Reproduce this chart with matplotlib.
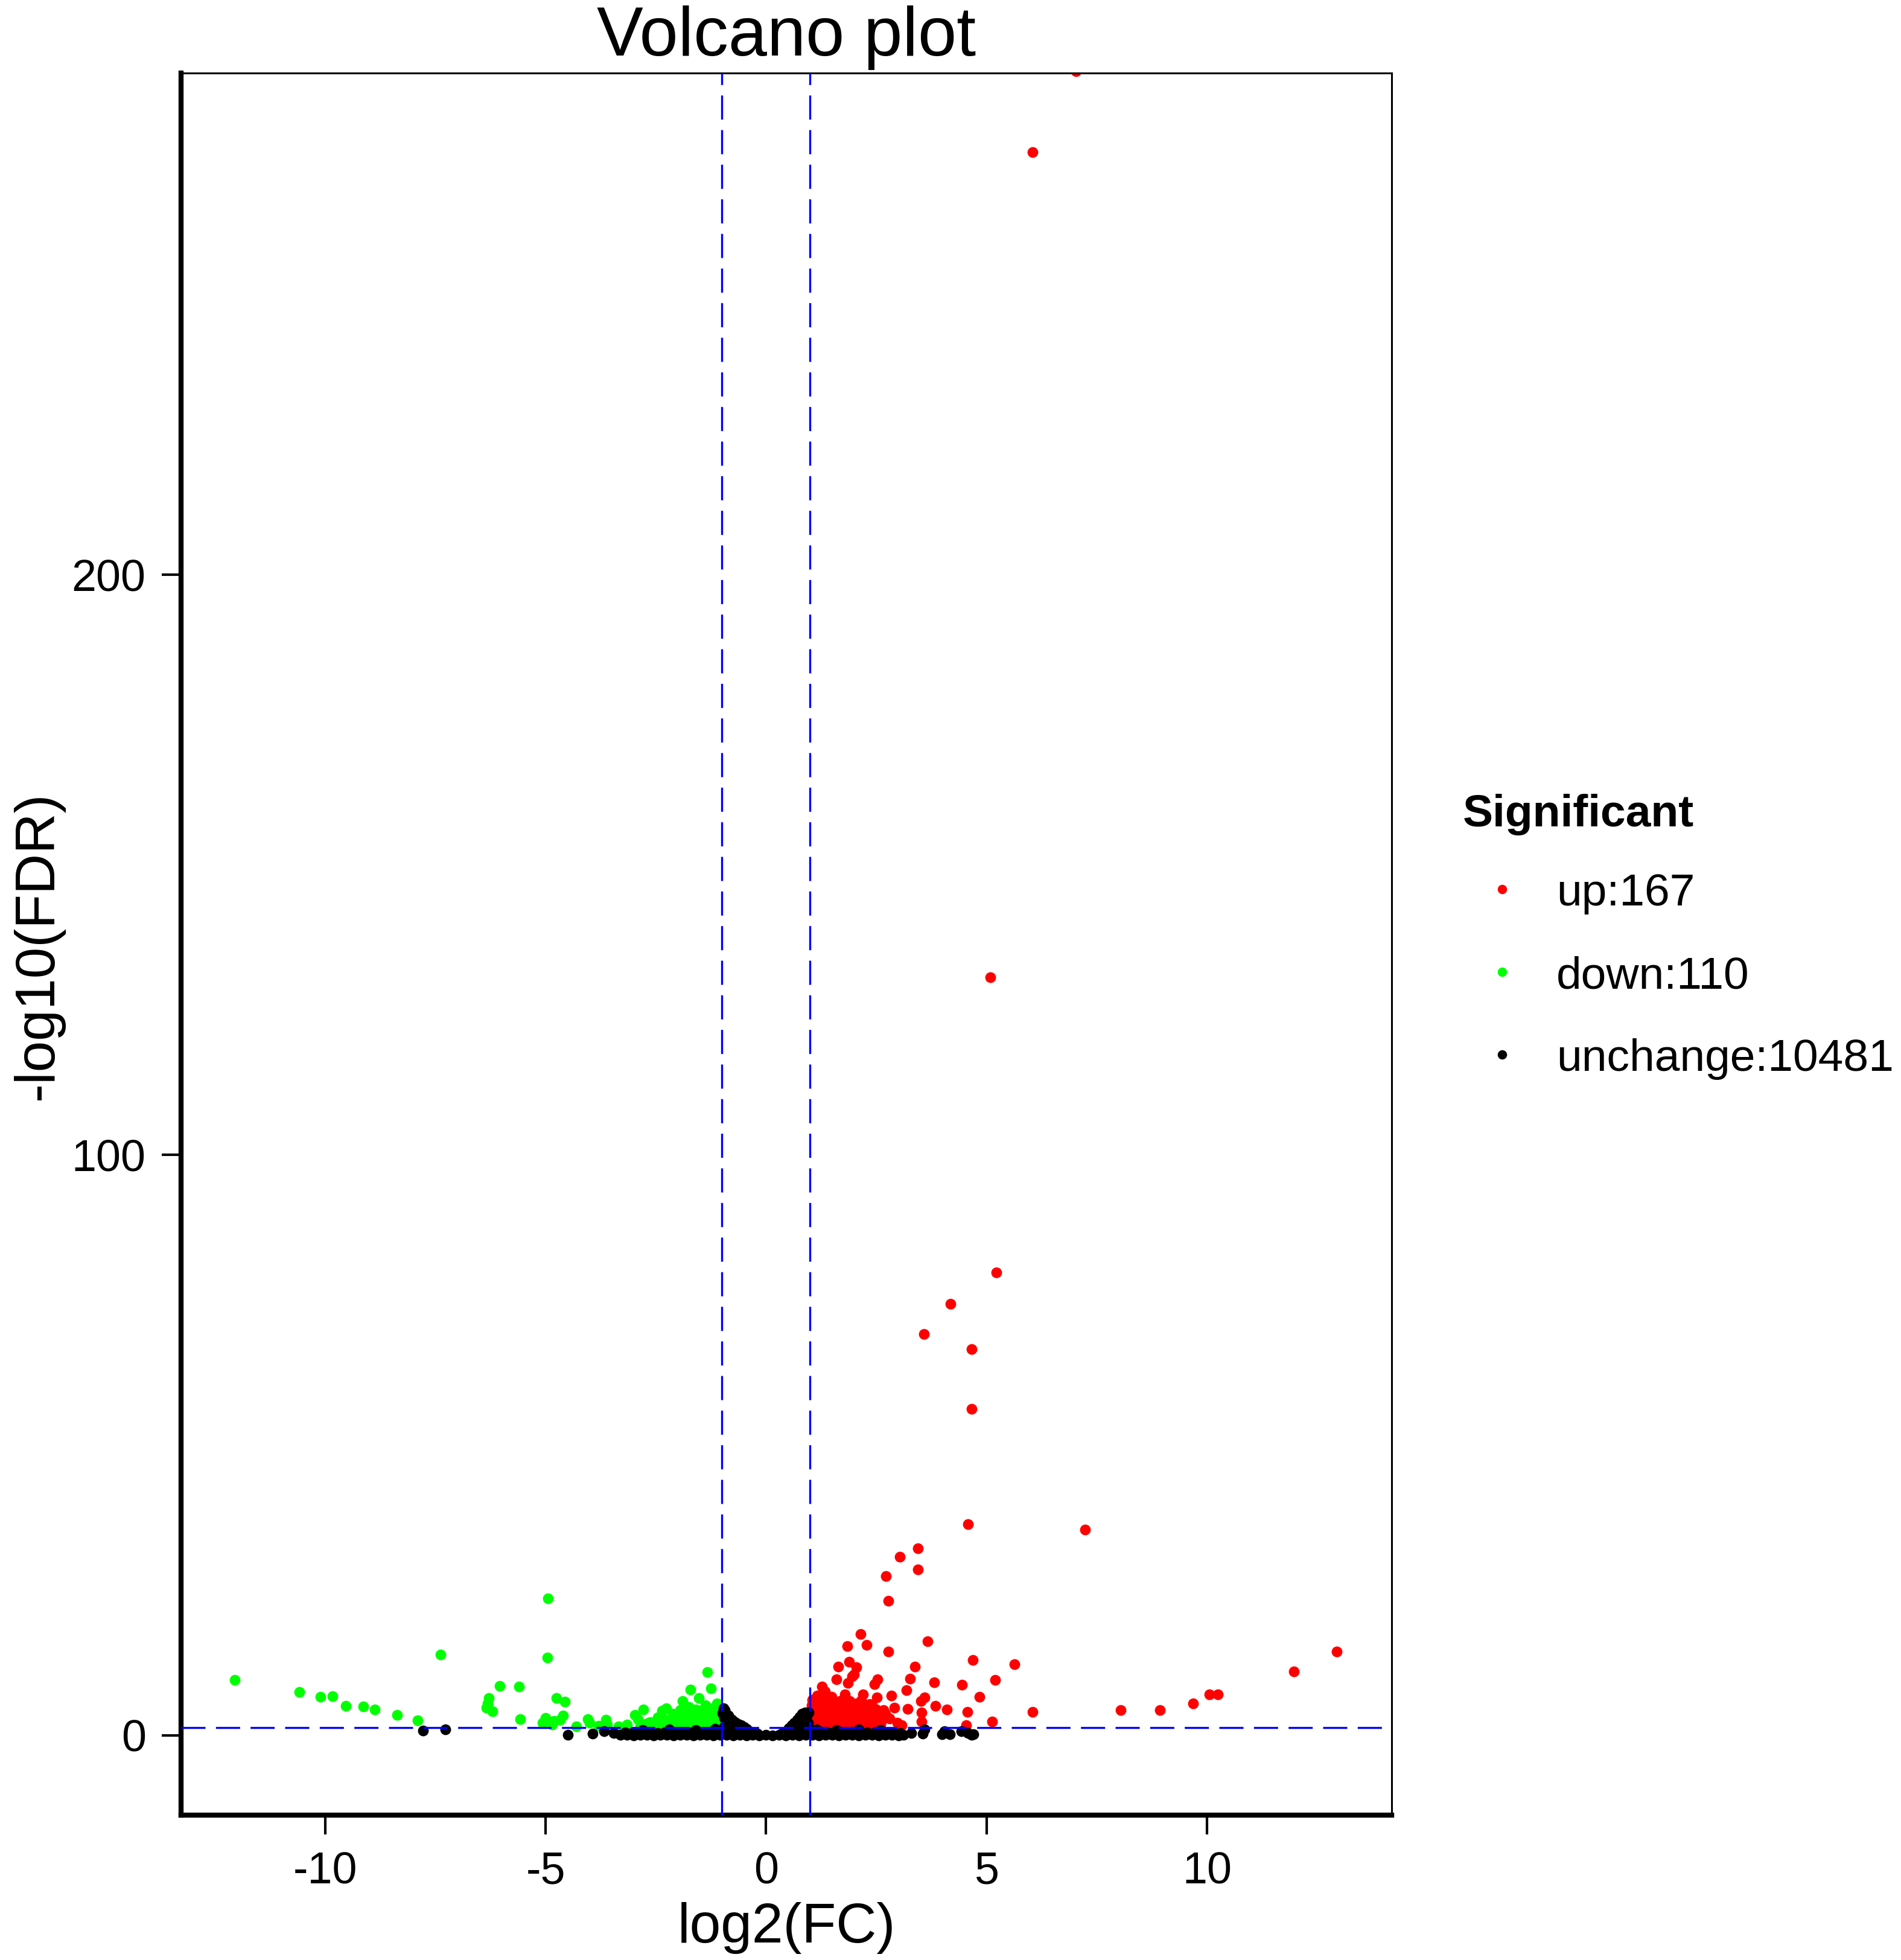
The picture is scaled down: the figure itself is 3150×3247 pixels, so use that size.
import matplotlib
matplotlib.use("Agg")
import matplotlib.pyplot as plt

plt.rcParams['font.family'] = ['Liberation Sans', 'DejaVu Sans']
plt.rcParams['axes.unicode_minus'] = False

# points: (log2(FC), -log10(FDR))
up_points = [
    (7.03, 286.8), (6.04, 272.8), (5.09, 130.6), (5.22, 79.8), (4.18, 74.4),
    (3.58, 69.2), (4.66, 66.5), (4.66, 56.3), (4.58, 36.4), (7.24, 35.5),
    (3.45, 32.2), (3.04, 30.8), (3.44, 28.6), (2.72, 27.4), (2.77, 23.2),
    (12.94, 14.4), (11.97, 11.0), (10.25, 7.0), (10.06, 7.0), (9.68, 5.5),
    (8.94, 4.3), (8.04, 4.3), (6.05, 4.0), (5.13, 2.4),
    (2.15, 17.5), (1.84, 15.4), (2.28, 15.6), (2.78, 14.4), (3.66, 16.2),
    (4.69, 13.0), (5.64, 12.3), (1.64, 11.8), (1.88, 12.7), (2.05, 11.7),
    (1.60, 9.7), (1.95, 10.2), (1.27, 8.4), (3.37, 11.8), (3.26, 9.8),
    (3.81, 9.1), (4.44, 8.7), (5.20, 9.5), (2.53, 9.7), (2.46, 8.8),
    (3.19, 7.8), (2.84, 6.8), (3.60, 6.5), (3.51, 5.9), (4.84, 6.6),
    (2.20, 7.1), (2.52, 6.5), (2.16, 6.0), (1.79, 7.1), (2.91, 4.8),
    (3.21, 4.6), (3.84, 5.1), (4.10, 4.5), (4.56, 4.0), (4.54, 1.7),
    (3.53, 3.9), (3.53, 2.4), (2.31, 4.3), (2.66, 4.3), (2.66, 3.3),
    (2.98, 2.2), (3.07, 1.7), (1.34, 7.6), (1.16, 6.8), (1.48, 6.6),
    (1.86, 9.0), (2.00, 10.5),
    # crowded part just right of the cut-off
    (1.05, 6.1), (1.13, 5.9), (1.21, 6.2), (1.30, 6.0), (1.42, 6.1), (1.55, 5.8),
    (1.70, 6.0), (1.90, 5.9),
    (1.03, 5.2), (1.10, 5.3), (1.18, 5.1), (1.25, 5.3), (1.35, 5.2), (1.45, 5.0),
    (1.60, 5.2), (1.75, 5.1), (1.95, 5.3), (2.10, 5.0), (2.40, 5.2),
    (1.02, 4.5), (1.08, 4.4), (1.15, 4.6), (1.22, 4.5), (1.30, 4.4), (1.38, 4.6),
    (1.50, 4.5), (1.62, 4.4), (1.80, 4.6), (2.00, 4.4), (2.20, 4.6), (2.50, 4.5),
    (1.04, 3.8), (1.10, 3.7), (1.17, 3.9), (1.24, 3.8), (1.32, 3.7), (1.40, 3.9),
    (1.52, 3.8), (1.65, 3.7), (1.78, 3.9), (1.92, 3.8), (2.05, 3.7), (2.25, 3.9),
    (2.45, 3.8), (2.70, 3.7),
    (1.03, 3.0), (1.09, 3.1), (1.15, 2.9), (1.21, 3.0), (1.28, 3.1), (1.36, 2.9),
    (1.45, 3.0), (1.55, 3.1), (1.68, 2.9), (1.82, 3.0), (1.97, 3.1), (2.12, 2.9),
    (2.30, 3.0), (2.55, 3.1), (2.80, 2.9),
    (1.02, 2.3), (1.08, 2.2), (1.14, 2.4), (1.20, 2.3), (1.27, 2.2), (1.35, 2.4),
    (1.44, 2.3), (1.54, 2.2), (1.66, 2.4), (1.80, 2.3), (1.95, 2.2), (2.10, 2.4),
    (2.28, 2.3), (2.48, 2.2),
    (1.05, 1.7), (1.12, 1.6), (1.20, 1.8), (1.30, 1.7), (1.40, 1.6), (1.52, 1.8),
    (1.65, 1.7), (1.80, 1.6), (1.96, 1.8), (2.15, 1.7), (2.35, 1.6), (2.60, 1.8),
    (1.25, 6.4), (1.58, 5.8), (1.40, 5.6), (2.05, 5.5), (2.35, 5.4), (1.68, 4.9),
    (2.42, 3.2), (2.62, 2.6), (1.88, 2.7), (1.46, 1.5),
]

down_points = [
    (-12.05, 9.5), (-10.59, 7.5), (-10.11, 6.6), (-9.84, 6.7), (-9.53, 5.1),
    (-9.14, 5.0), (-8.87, 4.5), (-8.37, 3.5), (-7.91, 2.6), (-7.38, 13.9),
    (-6.29, 6.4), (-6.32, 5.5), (-6.20, 4.1), (-6.04, 8.5), (-5.61, 8.4),
    (-5.57, 2.8), (-4.95, 23.6), (-4.96, 13.4), (-4.75, 6.4), (-4.56, 5.8),
    (-4.61, 3.4), (-4.68, 2.7), (-5.07, 2.2), (-4.81, 2.5), (-4.05, 2.8),
    (-4.00, 2.2), (-3.63, 2.7), (-3.60, 1.8), (-3.15, 1.8), (-2.97, 3.5),
    (-2.78, 4.4), (-2.91, 2.8), (-2.36, 4.2), (-2.26, 4.7), (-1.90, 5.9),
    (-1.72, 7.9), (-1.53, 6.4), (-1.34, 10.9), (-1.25, 8.1), (-2.63, 2.3),
    (-2.50, 1.6), (-2.49, 2.1),
    # crowded part just left of the cut-off
    (-1.05, 4.6), (-1.15, 4.5), (-1.28, 4.7), (-1.42, 4.6), (-1.60, 4.5),
    (-1.03, 4.0), (-1.10, 3.9), (-1.20, 4.1), (-1.30, 4.0), (-1.45, 3.9),
    (-1.62, 4.1), (-1.80, 4.0),
    (-1.04, 3.4), (-1.12, 3.3), (-1.22, 3.5), (-1.34, 3.4), (-1.48, 3.3),
    (-1.63, 3.5), (-1.82, 3.4), (-2.00, 3.3),
    (-1.02, 2.8), (-1.10, 2.7), (-1.18, 2.9), (-1.28, 2.8), (-1.40, 2.7),
    (-1.55, 2.9), (-1.70, 2.8), (-1.88, 2.7), (-2.08, 2.9), (-2.30, 2.8),
    (-1.05, 2.2), (-1.14, 2.1), (-1.25, 2.3), (-1.37, 2.2), (-1.50, 2.1),
    (-1.66, 2.3), (-1.84, 2.2), (-2.02, 2.1), (-2.20, 2.3), (-2.42, 2.2),
    (-2.70, 2.1),
    (-1.03, 1.6), (-1.12, 1.5), (-1.22, 1.7), (-1.35, 1.6), (-1.50, 1.5),
    (-1.68, 1.7), (-1.86, 1.6), (-2.06, 1.5), (-2.28, 1.7), (-2.55, 1.6),
    (-2.85, 1.5),
    (-2.45, 3.1), (-2.12, 3.7), (-1.95, 4.3), (-1.75, 4.9), (-1.38, 5.2),
    (-1.12, 5.5), (-3.35, 1.5), (-3.80, 1.6), (-4.30, 1.5), (-4.85, 1.9),
    (-6.35, 4.8), (-5.00, 3.0), (-1.65, 3.0), (-1.30, 3.0), (-2.15, 1.9),
    (-1.90, 1.5),
]

# a readable subset of the unchanged genes (they merge into one black band)
unchange_points = [
    (-7.78, 0.8), (-7.28, 1.0), (-4.50, 0.1), (-3.93, 0.3), (-3.68, 0.7),
    (-3.45, 0.4), (3.30, 0.4), (3.60, 1.0), (4.04, 0.7), (4.17, 0.2),
    (4.43, 0.7), (4.58, 0.35), (4.70, 0.2), (3.56, 0.3), (3.99, 0.2), (4.66, 0.1),
    # bottom of the band
    (-3.30, 0.05), (-3.15, 0.1), (-3.00, 0.0), (-2.85, 0.1), (-2.70, 0.05),
    (-2.55, 0.0), (-2.40, 0.1), (-2.25, 0.05), (-2.10, 0.0), (-1.95, 0.1),
    (-1.80, 0.05), (-1.65, 0.0), (-1.50, 0.1), (-1.35, 0.05), (-1.20, 0.0),
    (-1.05, 0.1), (-0.90, 0.05), (-0.75, 0.0), (-0.60, 0.05), (-0.45, 0.0),
    (-0.30, 0.05), (-0.15, 0.0), (0.00, 0.05), (0.15, 0.0), (0.30, 0.05),
    (0.45, 0.0), (0.60, 0.05), (0.75, 0.0), (0.90, 0.1), (1.05, 0.05),
    (1.20, 0.0), (1.35, 0.1), (1.50, 0.05), (1.65, 0.0), (1.80, 0.1),
    (1.95, 0.05), (2.10, 0.0), (2.25, 0.1), (2.40, 0.05), (2.55, 0.0),
    (2.70, 0.1), (2.85, 0.05), (3.00, 0.0), (3.12, 0.1),
    # upper part of the band
    (-3.20, 0.5), (-3.05, 0.4), (-2.90, 0.55), (-2.75, 0.45), (-2.60, 0.5),
    (-2.45, 0.4), (-2.30, 0.55), (-2.15, 0.45), (-2.00, 0.5), (-1.85, 0.4),
    (-1.70, 0.55), (-1.55, 0.45), (-1.40, 0.5), (-1.25, 0.6), (-1.10, 0.5),
    (1.10, 0.5), (1.25, 0.6), (1.40, 0.45), (1.55, 0.5), (1.70, 0.55),
    (1.85, 0.4), (2.00, 0.5), (2.15, 0.45), (2.30, 0.55), (2.45, 0.4),
    (2.60, 0.5), (2.75, 0.45), (2.90, 0.5), (3.05, 0.4),
    (-2.80, 0.9), (-2.20, 1.0), (-1.60, 0.9), (-1.15, 1.1), (1.15, 1.0),
    (1.60, 0.9), (2.10, 1.0), (2.60, 0.9),
    # left flank at log2FC ~ -1
    (-0.97, 4.7), (-0.93, 4.3), (-0.99, 3.8), (-0.90, 3.6), (-0.86, 3.4),
    (-0.95, 3.0), (-0.82, 3.0), (-0.77, 2.7), (-0.90, 2.4), (-0.70, 2.3),
    (-0.63, 2.0), (-0.80, 1.9), (-0.56, 1.7), (-0.50, 1.4), (-0.45, 1.1),
    (-0.40, 0.8), (-0.35, 0.6), (-0.28, 0.4), (-0.20, 0.25), (-0.70, 1.2),
    (-0.95, 1.5), (-0.85, 0.9),
    # right flank at log2FC ~ 1
    (0.97, 3.9), (0.88, 3.9), (0.82, 3.7), (0.93, 3.4), (0.76, 3.2),
    (0.70, 2.7), (0.86, 2.7), (0.64, 2.2), (0.95, 2.2), (0.58, 1.7),
    (0.80, 1.6), (0.52, 1.2), (0.47, 0.8), (0.42, 0.5), (0.35, 0.3),
    (0.70, 1.0), (0.95, 1.2),
]

groups = ['up', 'down', 'unchange']
group_counts = [167, 110, 10481]
group_colors = ['#FF0000', '#00FF00', '#000000']

fc_cut = 1.0
fdr_cut = 1.30  # -log10(0.05)

x_ticks = [-10, -5, 0, 5, 10]
y_ticks = [0, 100, 200]

W, H = 3150, 3247
fig = plt.figure(figsize=(W / 100, H / 100), dpi=100)
left, right, top, bottom = 300, 2306, 120.5, 3006.5
ax = fig.add_axes([left / W, 1 - bottom / H, (right - left) / W, (bottom - top) / H])

for pts, col, z in ((down_points, group_colors[1], 2),
                    (up_points, group_colors[0], 2),
                    (unchange_points, group_colors[2], 3)):
    xs = [p[0] for p in pts]
    ys = [p[1] for p in pts]
    ax.scatter(xs, ys, s=165, c=col, linewidths=0, zorder=z)

dash = (0, (12, 5.2))
ax.axvline(-fc_cut, color='#0000FF', lw=2.4, ls=dash, zorder=5)
ax.axvline(fc_cut, color='#0000FF', lw=2.4, ls=dash, zorder=5)
ax.axhline(fdr_cut, color='#0000FF', lw=2.4, ls=dash, zorder=5)

ax.set_xlim(-13.27, 14.19)
ax.set_ylim(-13.7, 286.5)
ax.set_xticks(x_ticks)
ax.set_yticks(y_ticks)

for side in ['left', 'bottom']:
    ax.spines[side].set_linewidth(6)
for side in ['top', 'right']:
    ax.spines[side].set_linewidth(2.2)

ax.tick_params(axis='both', length=23, width=3, direction='out', labelsize=53,
               colors='black')
ax.tick_params(axis='y', pad=19)
ax.tick_params(axis='x', pad=20)

# texts and legend in pixel coordinates
lax = fig.add_axes([0, 0, 1, 1])
lax.set_xlim(0, W)
lax.set_ylim(H, 0)
lax.axis('off')

lax.text(1303, 92, 'Volcano plot', fontsize=83, ha='center', va='baseline')
lax.text(1303, 3194, 'log2(FC)', fontsize=67, ha='center', va='center')
lax.text(63, 1566, '-log10(FDR)', fontsize=67, rotation=90, ha='center', va='center')

lax.text(2424, 1369, 'Significant', fontsize=54, fontweight='bold', va='baseline')
for i, (g, n, col) in enumerate(zip(groups, group_counts, group_colors)):
    lax.scatter([2489], [1472.5 + i * 137], s=125, c=col, linewidths=0)
    lax.text(2579, 1500 + i * 137, '{}:{}'.format(g, n), fontsize=54, va='baseline')

fig.savefig('out.png', dpi=100)
